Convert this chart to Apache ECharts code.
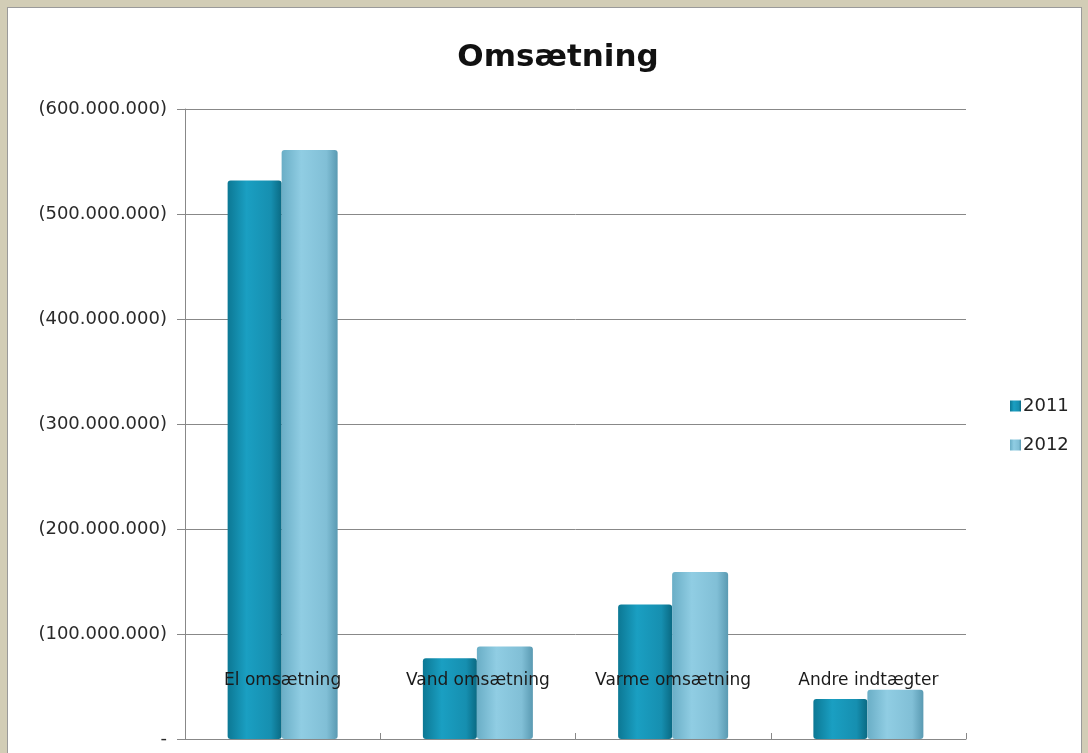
<!DOCTYPE html>
<html>
<head>
<meta charset="utf-8">
<script src="https://cdn.jsdelivr.net/npm/echarts@6/dist/echarts.min.js"></script>
<style>
  html, body { margin: 0; padding: 0; }
  body { width: 1088px; height: 753px; background: #d2cdb6; position: relative; overflow: hidden; }
  #frame { position: absolute; left: 7px; top: 7px; width: 1073px; height: 760px; background: #ffffff; border: 1px solid #9a9a9a; }
  #chart { position: absolute; left: 0; top: 0; width: 1088px; height: 753px; }
</style>
</head>
<body>
<div id="frame"></div>
<div id="chart"></div>
<script>
const titleText = "Omsætning";
const categories = ["El omsætning", "Vand omsætning", "Varme omsætning", "Andre indtægter"];
const seriesNames = ["2011", "2012"];
const values2011 = [-532000000, -77000000, -128000000, -38000000];
const values2012 = [-561000000, -88000000, -159000000, -47000000];

function fmt(v) {
  if (v === 0) return "-";
  const s = Math.abs(v).toString().replace(/\B(?=(\d{3})+(?!\d))/g, ".");
  return v < 0 ? "(" + s + ")" : s;
}

const font = "DejaVu Sans";
const chart = echarts.init(document.getElementById('chart'), null, { renderer: 'canvas' });

const grad2011 = new echarts.graphic.LinearGradient(0, 0, 1, 0, [
  { offset: 0, color: '#0c7894' },
  { offset: 0.35, color: '#1a9fc2' },
  { offset: 0.8, color: '#168fb0' },
  { offset: 1, color: '#0a6a83' }
]);
const grad2012 = new echarts.graphic.LinearGradient(0, 0, 1, 0, [
  { offset: 0, color: '#6aaec6' },
  { offset: 0.35, color: '#90cde3' },
  { offset: 0.8, color: '#81bfd6' },
  { offset: 1, color: '#5a9ab2' }
]);

chart.setOption({
  animation: false,
  title: {
    text: titleText,
    left: 553, top: 37, textAlign: 'center',
    textStyle: { fontFamily: font, fontSize: 31, fontWeight: 'bold', color: '#111' }
  },
  legend: {
    orient: 'vertical',
    left: 1005, top: 392,
    itemWidth: 11, itemHeight: 11, itemGap: 21,
    icon: 'rect',
    data: seriesNames,
    textStyle: { fontFamily: font, fontSize: 18, color: '#222', padding: [0, 0, 0, -3] }
  },
  grid: { left: 185, right: 122, top: 109, bottom: 14, containLabel: false },
  xAxis: {
    type: 'category',
    data: categories,
    z: 10,
    axisLine: { onZero: true, lineStyle: { color: '#888', width: 1 } },
    axisTick: { show: true, inside: true, length: 6, interval: 0, lineStyle: { color: '#888' } },
    axisLabel: {
      inside: true, margin: 50, interval: 0, hideOverlap: false,
      fontFamily: font, fontSize: 17, color: '#1a1a1a'
    },
    splitLine: { show: false }
  },
  yAxis: {
    type: 'value',
    inverse: true,
    min: -600000000, max: 0, interval: 100000000,
    axisLine: { show: true, lineStyle: { color: '#888', width: 1 } },
    axisTick: { show: true, length: 8, lineStyle: { color: '#888' } },
    axisLabel: {
      formatter: fmt, margin: 18,
      fontFamily: font, fontSize: 18, color: '#2a2a2a'
    },
    splitLine: { show: true, lineStyle: { color: '#888', width: 1 } }
  },
  series: [
    {
      name: seriesNames[0], type: 'bar', data: values2011,
      barWidth: 54, barGap: '0%',
      itemStyle: { color: grad2011, borderRadius: 3 }
    },
    {
      name: seriesNames[1], type: 'bar', data: values2012,
      barWidth: 56, barGap: '0%',
      itemStyle: { color: grad2012, borderRadius: 3 }
    }
  ]
});
</script>
</body>
</html>
